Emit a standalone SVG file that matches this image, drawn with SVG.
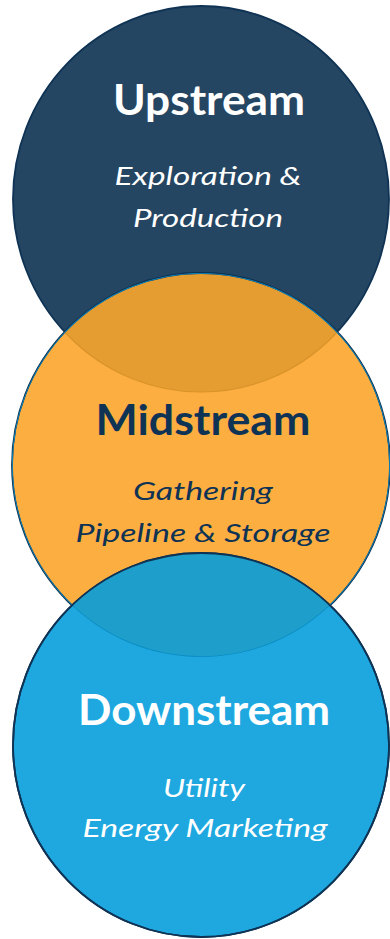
<svg xmlns="http://www.w3.org/2000/svg" width="390" height="939" viewBox="0 0 390 939">
  <style>
    .ring { stroke: #0f3354; stroke-width: 1.8; }
    .title { font-family: Lato, "Open Sans", "Liberation Sans", sans-serif; font-weight: 700; font-size: 42px; text-anchor: middle; }
    .sub { font-family: Lato, "Open Sans", "Liberation Sans", sans-serif; font-style: italic; font-size: 25px; text-anchor: middle; }
    .light { fill: #ffffff; }
    .dark { fill: #0f3354; }
  </style>
  <defs>
    <clipPath id="clip-up">
      <ellipse cx="201" cy="199" rx="188" ry="193"/>
    </clipPath>
    <clipPath id="clip-mid">
      <ellipse cx="201" cy="465" rx="189" ry="192"/>
    </clipPath>
  </defs>

  <!-- Upstream stage -->
  <g id="upstream">
    <ellipse class="ring" cx="201" cy="199" rx="188" ry="193" fill="#254662"/>
    <text class="title light" x="209" y="115" textLength="192" lengthAdjust="spacingAndGlyphs">Upstream</text>
    <text class="sub light" x="208" y="185" textLength="187" lengthAdjust="spacingAndGlyphs">Exploration &amp;</text>
    <text class="sub light" x="208" y="227" textLength="150" lengthAdjust="spacingAndGlyphs">Production</text>
  </g>

  <!-- Midstream stage, with its overlap onto Upstream -->
  <g id="midstream">
    <ellipse class="ring" cx="201" cy="465" rx="189" ry="192" fill="#fcae41"/>
    <g clip-path="url(#clip-mid)">
      <ellipse cx="201" cy="199" rx="188" ry="193" fill="#e59d32" stroke="#d99329" stroke-width="1.2"/>
    </g>
    <ellipse cx="201" cy="465" rx="189" ry="192" fill="none" stroke="#0f3354" stroke-width="1.8" clip-path="url(#clip-up)"/>
    <text class="title dark" x="203" y="435" textLength="215" lengthAdjust="spacingAndGlyphs">Midstream</text>
    <text class="sub dark" x="203" y="500" textLength="140" lengthAdjust="spacingAndGlyphs">Gathering</text>
    <text class="sub dark" x="203" y="542" textLength="255" lengthAdjust="spacingAndGlyphs">Pipeline &amp; Storage</text>
  </g>

  <!-- Downstream stage, with its overlap onto Midstream -->
  <g id="downstream">
    <ellipse class="ring" cx="201" cy="745" rx="188" ry="192" fill="#1ea8df"/>
    <g clip-path="url(#clip-mid)">
      <ellipse cx="201" cy="745" rx="188" ry="192" fill="#1e9fcb"/>
      <ellipse cx="201" cy="465" rx="189" ry="192" fill="none" stroke="#0a8dc6" stroke-width="1.5"/>
    </g>
    <ellipse class="ring" cx="201" cy="745" rx="188" ry="192" fill="none"/>
    <text class="title light" x="204" y="725" textLength="252" lengthAdjust="spacingAndGlyphs">Downstream</text>
    <text class="sub light" x="204" y="797" textLength="82" lengthAdjust="spacingAndGlyphs">Utility</text>
    <text class="sub light" x="205" y="837" textLength="245" lengthAdjust="spacingAndGlyphs">Energy Marketing</text>
  </g>

  <!-- no connectors in this diagram -->
  <g id="connectors"/>
</svg>
